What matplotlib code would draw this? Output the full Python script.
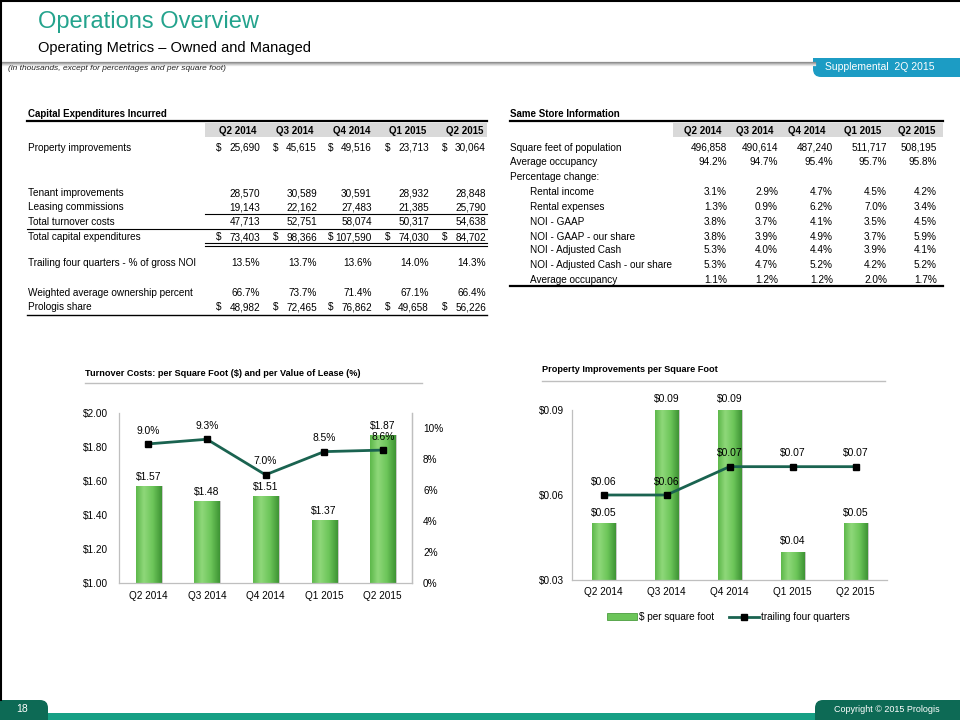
import numpy as np
import matplotlib
matplotlib.use("Agg")
import matplotlib.pyplot as plt
from matplotlib.patches import Rectangle, FancyBboxPatch, Patch
from matplotlib.transforms import Affine2D, ScaledTranslation
from matplotlib.colors import LinearSegmentedColormap
from matplotlib.lines import Line2D

plt.rcParams["font.family"] = ["Liberation Sans", "DejaVu Sans"]
plt.rcParams["text.parse_math"] = False

# --- data ---
quarters = ["Q2 2014", "Q3 2014", "Q4 2014", "Q1 2015", "Q2 2015"]

# capital expenditures incurred (in thousands)
property_improvements = [25690, 45615, 49516, 23713, 30064]
tenant_improvements = [28570, 30589, 30591, 28932, 28848]
leasing_commissions = [19143, 22162, 27483, 21385, 25790]
total_turnover_costs = [47713, 52751, 58074, 50317, 54638]
total_capex = [73403, 98366, 107590, 74030, 84702]
trailing_pct_gross_noi = [13.5, 13.7, 13.6, 14.0, 14.3]
ownership_pct = [66.7, 73.7, 71.4, 67.1, 66.4]
prologis_share = [48982, 72465, 76862, 49658, 56226]

# same store information
sq_ft_population = [496858, 490614, 487240, 511717, 508195]
avg_occupancy = [94.2, 94.7, 95.4, 95.7, 95.8]
rental_income_chg = [3.1, 2.9, 4.7, 4.5, 4.2]
rental_expenses_chg = [1.3, 0.9, 6.2, 7.0, 3.4]
noi_gaap_chg = [3.8, 3.7, 4.1, 3.5, 4.5]
noi_gaap_share_chg = [3.8, 3.9, 4.9, 3.7, 5.9]
noi_cash_chg = [5.3, 4.0, 4.4, 3.9, 4.1]
noi_cash_share_chg = [5.3, 4.7, 5.2, 4.2, 5.2]
avg_occupancy_chg = [1.1, 1.2, 1.2, 2.0, 1.7]

# charts
turnover_per_sqft = [1.57, 1.48, 1.51, 1.37, 1.87]
turnover_pct_lease = [9.0, 9.3, 7.0, 8.5, 8.6]
prop_impr_per_sqft = [0.05, 0.09, 0.09, 0.04, 0.05]
prop_impr_trailing = [0.06, 0.06, 0.07, 0.07, 0.07]

TEAL = "#24A38D"
DARK_TEAL = "#0D6A55"
BLUE = "#1C9CC4"
LINE = "#1A6350"
GRID_GRAY = "#BFBFBF"
FS = 7.2

fig = plt.figure(figsize=(9.6, 7.2), dpi=100)
# pixel coordinates, origin top-left
px = Affine2D().scale(1 / 960, -1 / 720).translate(0, 1) + fig.transFigure


def ptext(x, y, s, **kw):
    kw.setdefault("fontsize", FS)
    kw.setdefault("va", "center")
    fig.text(x, y, s, transform=px, **kw)


def hline(y, x0, x1, lw=0.8, color="black"):
    fig.add_artist(Line2D([x0, x1], [y, y], transform=px, color=color, lw=lw))


def add_patch(p):
    p.set_transform(px)
    p.set_clip_on(False)
    fig.add_artist(p)


# --- header ---
ptext(38, 22, "Operations Overview", fontsize=17, color=TEAL)
ptext(38, 48, "Operating Metrics \u2013 Owned and Managed", fontsize=10.5, color="black")
for i, c in enumerate(["#8C8C8C", "#A8A8A8", "#C8C8C8", "#E4E4E4"]):
    hline(62 + i, 0, 815, lw=0.9, color=c)
add_patch(FancyBboxPatch((813, 58), 160, 19, boxstyle="round,pad=0,rounding_size=8",
                         facecolor=BLUE, edgecolor="none"))
add_patch(Rectangle((813, 58), 20, 9, facecolor=BLUE, edgecolor="none"))
ptext(880, 67.5, "Supplemental  2Q 2015", fontsize=7.5, color="white", ha="center")
ptext(8, 69, "(in thousands, except for percentages and per square foot)",
      fontsize=6, style="italic", color="#222222")

# border
fig.add_artist(Line2D([0.8, 0.8], [0, 700], transform=px, color="black", lw=1.5))
fig.add_artist(Line2D([0, 960], [0.8, 0.8], transform=px, color="black", lw=1.5))

# --- capital expenditures table ---
cap_right = [260, 317, 372, 429, 486]
cap_head = [238, 295, 352, 408, 465]
ptext(28, 114, "Capital Expenditures Incurred", fontweight="bold", fontsize=7)
hline(121, 27, 487, lw=1.6)
add_patch(Rectangle((205, 123), 282, 14, facecolor="#D9D9D9", edgecolor="none"))
for q, cx in zip(quarters, cap_head):
    ptext(cx, 131, q, ha="center", fontweight="bold", fontsize=7)

cap_rows = [
    ("Property improvements", property_improvements, "dollar"),
    ("Tenant improvements", tenant_improvements, "num"),
    ("Leasing commissions", leasing_commissions, "num"),
    ("Total turnover costs", total_turnover_costs, "num"),
    ("Total capital expenditures", total_capex, "dollar"),
    ("Trailing four quarters - % of gross NOI", trailing_pct_gross_noi, "pct"),
    ("Weighted average ownership percent", ownership_pct, "pct"),
    ("Prologis share", prologis_share, "dollar"),
]
cap_row_y = [148, 193, 207, 222, 237, 263, 293, 307]

for (label, vals, kind), y in zip(cap_rows, cap_row_y):
    ptext(28, y, label)
    for v, rx in zip(vals, cap_right):
        if kind == "pct":
            ptext(rx, y, f"{v:.1f}%", ha="right")
        else:
            ptext(rx, y, f"{v:,}", ha="right")
            if kind == "dollar":
                ptext(rx - 44, y, "$", ha="left")

hline(214, 205, 487)
hline(229, 27, 487)
hline(243, 205, 487)
hline(246, 205, 487)
hline(315, 27, 487, lw=1.0)

# --- same store table ---
ss_right = [727, 778, 833, 887, 937]
ss_head = [703, 755, 807, 863, 917]
ptext(510, 114, "Same Store Information", fontweight="bold", fontsize=7)
hline(121, 510, 943, lw=1.6)
add_patch(Rectangle((673, 123), 270, 14, facecolor="#D9D9D9", edgecolor="none"))
for q, cx in zip(quarters, ss_head):
    ptext(cx, 131, q, ha="center", fontweight="bold", fontsize=7)

ss_rows = [
    ("Square feet of population", sq_ft_population, "num", 0),
    ("Average occupancy", avg_occupancy, "pct", 0),
    ("Percentage change:", None, None, 0),
    ("Rental income", rental_income_chg, "pct", 1),
    ("Rental expenses", rental_expenses_chg, "pct", 1),
    ("NOI - GAAP", noi_gaap_chg, "pct", 1),
    ("NOI - GAAP - our share", noi_gaap_share_chg, "pct", 1),
    ("NOI - Adjusted Cash", noi_cash_chg, "pct", 1),
    ("NOI - Adjusted Cash - our share", noi_cash_share_chg, "pct", 1),
    ("Average occupancy", avg_occupancy_chg, "pct", 1),
]
ss_row_y = [148, 162, 177, 192, 207, 222, 237, 250, 265, 280]

for (label, vals, kind, indent), y in zip(ss_rows, ss_row_y):
    ptext(510 + 20 * indent, y, label)
    if vals is None:
        continue
    for v, rx in zip(vals, ss_right):
        s = f"{v:.1f}%" if kind == "pct" else f"{v:,}"
        ptext(rx, y, s, ha="right")
hline(286, 510, 943, lw=1.6)

# --- charts ---
cmap = LinearSegmentedColormap.from_list(
    "bar", [(0, "#5DB84B"), (0.3, "#8FD87A"), (0.65, "#6DC65A"), (1, "#3E9434")])
grad = np.linspace(0, 1, 64).reshape(1, -1)


def shade_bars(ax, bars):
    # limits must already be set
    base = ax.get_ylim()[0]
    shadow = ax.transData + ScaledTranslation(2 / 100, 0, fig.dpi_scale_trans)
    for b in bars:
        x0, w, h = b.get_x(), b.get_width(), b.get_height()
        sh = Rectangle((x0, base), w, h - base, facecolor="#8A8A8A", alpha=0.45,
                       edgecolor="none", transform=shadow, zorder=1.5)
        ax.add_patch(sh)
        im = ax.imshow(grad, cmap=cmap, extent=[x0, x0 + w, base, h], aspect="auto",
                       zorder=2.1, interpolation="bicubic")
        im.set_clip_path(b)
        b.set_zorder(2)
        b.set_edgecolor("#4B9E3F")
        b.set_linewidth(0.6)


def style_axes(ax):
    for s in ax.spines.values():
        s.set_color(GRID_GRAY)
        s.set_linewidth(0.9)
    ax.spines["top"].set_visible(False)
    ax.tick_params(length=0, labelsize=7.2, colors="black")


x = np.arange(len(quarters))

# left chart
ptext(85, 373, "Turnover Costs: per Square Foot ($) and per Value of Lease (%)",
      fontweight="bold", fontsize=6.6)
hline(383, 85, 422, lw=1.0, color=GRID_GRAY)

ax1 = fig.add_axes([119 / 960, 1 - 583 / 720, 293 / 960, 170 / 720])
bars1 = ax1.bar(x, turnover_per_sqft, width=0.43, color="#6CC55A")
ax1.set_xlim(-0.5, 4.5)
ax1.set_ylim(1.0, 2.0)
shade_bars(ax1, bars1)
ax1.set_xlim(-0.5, 4.5)
ax1.set_ylim(1.0, 2.0)
ax1.set_yticks(np.arange(1.0, 2.01, 0.2))
ax1.set_yticklabels([f"${v:.2f}" for v in np.arange(1.0, 2.01, 0.2)])
ax1.set_xticks(x)
ax1.set_xticklabels(quarters)
style_axes(ax1)
ax1.tick_params(axis="x", pad=6)
ax1.tick_params(axis="y", pad=8)
for xi, v in zip(x, turnover_per_sqft):
    ax1.annotate(f"${v:.2f}", (xi, v), xytext=(0, 3), textcoords="offset points",
                 ha="center", va="bottom", fontsize=7.4, zorder=5)

ax2 = ax1.twinx()
ax2.plot(x, turnover_pct_lease, color=LINE, lw=2, marker="s", ms=4.5,
         mfc="black", mec="black", zorder=4)
ax2.set_ylim(0, 11)
ax2.set_yticks(range(0, 11, 2))
ax2.set_yticklabels([f"{v}%" for v in range(0, 11, 2)])
style_axes(ax2)
ax2.spines["left"].set_visible(False)
ax2.spines["bottom"].set_visible(False)
ax2.tick_params(axis="y", pad=8)
for xi, v in zip(x, turnover_pct_lease):
    ax2.annotate(f"{v:.1f}%", (xi, v), xytext=(0, 6), textcoords="offset points",
                 ha="center", va="bottom", fontsize=7.4)

# right chart
ptext(542, 370, "Property Improvements per Square Foot", fontweight="bold", fontsize=6.6)
hline(381, 542, 885, lw=1.0, color=GRID_GRAY)

ax3 = fig.add_axes([572 / 960, 1 - 580 / 720, 315 / 960, 170 / 720])
bars3 = ax3.bar(x, prop_impr_per_sqft, width=0.38, color="#6CC55A")
ax3.set_xlim(-0.5, 4.5)
ax3.set_ylim(0.03, 0.09)
shade_bars(ax3, bars3)
ax3.plot(x, prop_impr_trailing, color=LINE, lw=2, marker="s", ms=4.5,
         mfc="black", mec="black", zorder=4)
ax3.set_xlim(-0.5, 4.5)
ax3.set_ylim(0.03, 0.09)
ax3.set_yticks([0.03, 0.06, 0.09])
ax3.set_yticklabels([f"${v:.2f}" for v in [0.03, 0.06, 0.09]])
ax3.set_xticks(x)
ax3.set_xticklabels(quarters)
style_axes(ax3)
ax3.spines["right"].set_visible(False)
ax3.tick_params(axis="x", pad=5)
ax3.tick_params(axis="y", pad=6)
for xi, v in zip(x, prop_impr_per_sqft):
    ax3.annotate(f"${v:.2f}", (xi, v), xytext=(0, 4), textcoords="offset points",
                 ha="center", va="bottom", fontsize=7.4, zorder=5)
for xi, v in zip(x, prop_impr_trailing):
    ax3.annotate(f"${v:.2f}", (xi, v), xytext=(0, 6), textcoords="offset points",
                 ha="center", va="bottom", fontsize=7.4, zorder=5)

handles = [Patch(facecolor="#6CC55A", edgecolor="#4B9E3F", lw=0.6),
           Line2D([], [], color=LINE, lw=2, marker="s", ms=4.5, mfc="black", mec="black")]
fig.legend(handles, ["$ per square foot", "trailing four quarters"], loc="center",
           bbox_to_anchor=(728 / 960, 1 - 617 / 720), ncol=2, frameon=False,
           fontsize=7.2, handlelength=3.0, handleheight=0.6, columnspacing=1.5,
           handletextpad=0.2)

# --- footer ---
add_patch(Rectangle((0, 713), 960, 7, facecolor="#16A085", edgecolor="none"))
add_patch(FancyBboxPatch((-20, 700), 68, 30, boxstyle="round,pad=0,rounding_size=8",
                         facecolor=DARK_TEAL, edgecolor="none"))
add_patch(FancyBboxPatch((815, 700), 170, 30, boxstyle="round,pad=0,rounding_size=8",
                         facecolor=DARK_TEAL, edgecolor="none"))
ptext(22, 709, "18", fontsize=7.5, color="white", ha="center")
ptext(887, 710, "Copyright \u00a9 2015 Prologis", fontsize=6.5, color="white", ha="center")

fig.savefig("out.png", dpi=100)
